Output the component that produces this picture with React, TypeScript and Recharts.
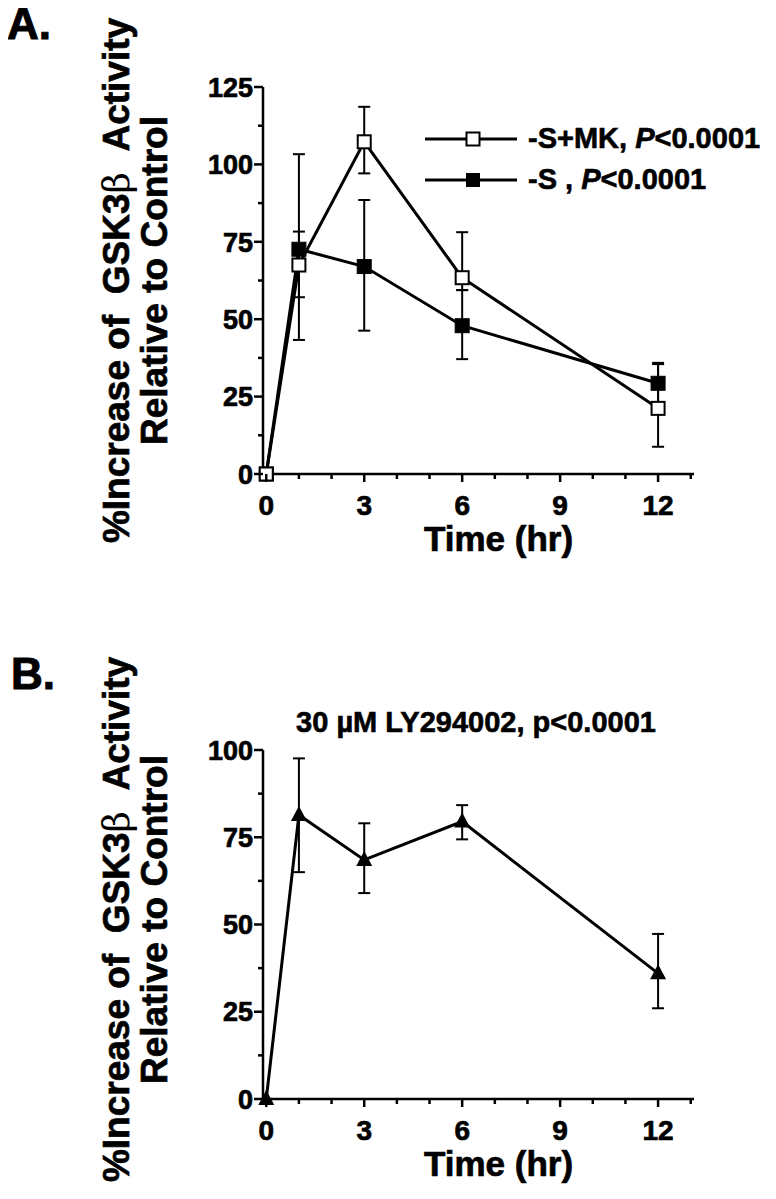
import React from 'react';
import { LineChart, Line, XAxis, YAxis, ErrorBar, Legend } from 'recharts';

// time points (hr)
const times = [0, 1, 3, 6, 12];

// panel A: -S+MK (open squares)
const mkMean = [0, 67.5, 107.3, 63.4, 21.2];
const mkLow = [0, 43.3, 97.1, 59.4, 8.8];
const mkHigh = [0, 103.3, 118.6, 78.1, 35.9];

// panel A: -S (filled squares)
const sMean = [0, 72.6, 67, 47.9, 29.3];
const sLow = [0, 57.1, 46.3, 37.1, 23];
const sHigh = [0, 78.3, 88.5, 59.4, 35.5];

// panel B: 30 uM LY294002 (triangles)
const lyMean = [0, 81.4, 68.5, 79.5, 36];
const lyLow = [0, 65, 59, 74.4, 26];
const lyHigh = [0, 97.6, 79, 84.2, 47.3];

const xTicks = [0, 1, 2, 3, 4, 5, 6, 7, 8, 9, 10, 11, 12, 13];
const yTicksA = [0, 12.5, 25, 37.5, 50, 62.5, 75, 87.5, 100, 112.5, 125];
const yTicksB = [0, 12.5, 25, 37.5, 50, 62.5, 75, 87.5, 100];

const legendItems = [
  { key: 'mk', label: '-S+MK, ', filled: false },
  { key: 's', label: '-S , ', filled: true },
];

const FONT = '"Liberation Sans", Arial, Helvetica, sans-serif';
// heavier look, like the scanned figure
const heavy = { stroke: '#000', strokeWidth: 0.7, paintOrder: 'stroke' as const };

const dataA = times.map((t, i) => ({
  t,
  mk: mkMean[i],
  mkErr: [mkMean[i] - mkLow[i], mkHigh[i] - mkMean[i]],
  s: sMean[i],
  sErr: [sMean[i] - sLow[i], sHigh[i] - sMean[i]],
}));

const dataB = times.map((t, i) => ({
  t,
  ly: lyMean[i],
  lyErr: [lyMean[i] - lyLow[i], lyHigh[i] - lyMean[i]],
}));

const XTick = ({ x, y, payload }: any) => {
  const major = payload.value % 3 === 0;
  return (
    <g>
      <line x1={x} x2={x} y1={y} y2={y + (major ? 8 : 5)} stroke="#000" strokeWidth={2.5} />
      {major && (
        <text x={x} y={y + 41} textAnchor="middle" fontFamily={FONT} fontWeight="bold" fontSize={28} fill="#000" {...heavy}>
          {payload.value}
        </text>
      )}
    </g>
  );
};

const YTick = ({ x, y, payload }: any) => {
  const major = payload.value % 25 === 0;
  return (
    <g>
      <line x1={x - (major ? 9 : 5)} x2={x} y1={y} y2={y} stroke="#000" strokeWidth={2.5} />
      {major && (
        <text x={x - 10} y={y} dy="0.36em" textAnchor="end" fontFamily={FONT} fontWeight="bold" fontSize={27} fill="#000" {...heavy}>
          {payload.value}
        </text>
      )}
    </g>
  );
};

const YTitle = ({ viewBox, shift = 0 }: any) => {
  const cy = viewBox.y + viewBox.height / 2 + shift;
  const common = {
    textAnchor: 'middle' as const,
    fontFamily: FONT,
    fontWeight: 'bold' as const,
    fontSize: 37,
    fill: '#000',
    ...heavy,
    style: { whiteSpace: 'pre' as const },
  };
  const x1 = viewBox.x - 74;
  const x2 = viewBox.x - 36;
  return (
    <g>
      <text x={x1} y={cy} transform={`rotate(-90 ${x1} ${cy})`} {...common}>
        %Increase of  GSK3<tspan fontWeight="normal" fontFamily="DejaVu Serif" strokeWidth={0}>β</tspan>  Activity
      </text>
      <text x={x2} y={cy} transform={`rotate(-90 ${x2} ${cy})`} {...common}>
        Relative to Control
      </text>
    </g>
  );
};

const XTitle = ({ viewBox }: any) => (
  <text
    x={viewBox.x + viewBox.width / 2 + 20}
    y={viewBox.y + 77}
    textAnchor="middle"
    fontFamily={FONT}
    fontWeight="bold"
    fontSize={35}
    fill="#000"
    {...heavy}
  >
    Time (hr)
  </text>
);

const OpenSquare = (p: any) => (
  <rect key={p.index} x={p.cx - 6.5} y={p.cy - 6.5} width={13} height={13} fill="#fff" stroke="#000" strokeWidth={2} />
);
const FilledSquare = (p: any) => (
  <rect key={p.index} x={p.cx - 7} y={p.cy - 7} width={14} height={14} fill="#000" stroke="#000" strokeWidth={1} />
);
const Triangle = (p: any) => (
  <polygon
    key={p.index}
    points={`${p.cx},${p.cy - 9} ${p.cx - 8},${p.cy + 6} ${p.cx + 8},${p.cy + 6}`}
    fill="#000"
  />
);

const LegendBox = () => (
  <div style={{ fontFamily: FONT, fontWeight: 'bold', fontSize: 29, color: '#000', WebkitTextStroke: '0.6px #000' }}>
    {legendItems.map((it) => (
      <div key={it.key} style={{ display: 'flex', alignItems: 'center', height: 41, whiteSpace: 'pre' }}>
        <svg width={92} height={20} style={{ marginRight: 11 }}>
          <line x1={0} x2={92} y1={10} y2={10} stroke="#000" strokeWidth={3} />
          {it.filled ? (
            <rect x={41} y={3} width={14} height={14} fill="#000" />
          ) : (
            <rect x={41.5} y={3.5} width={13} height={13} fill="#fff" stroke="#000" strokeWidth={2} />
          )}
        </svg>
        <span>
          {it.label}
          <i>P</i>
          {'<0.0001'}
        </span>
      </div>
    ))}
  </div>
);

const axisStyle = { stroke: '#000', strokeWidth: 2.5 };
const panelLabel = {
  position: 'absolute' as const,
  fontFamily: FONT,
  fontWeight: 'bold' as const,
  fontSize: 44,
  lineHeight: '48px',
  WebkitTextStroke: '1px #000',
};

export default function App() {
  return (
    <div style={{ position: 'relative', width: 776, height: 1199, margin: -8, background: '#fff', overflow: 'hidden' }}>
      <div style={{ ...panelLabel, left: 7, top: 0 }}>A.</div>
      <div style={{ ...panelLabel, left: 11, top: 650 }}>B.</div>
      <div
        style={{
          position: 'absolute',
          left: 0,
          width: 952,
          top: 705,
          textAlign: 'center',
          fontFamily: FONT,
          fontWeight: 'bold',
          fontSize: 29,
          lineHeight: '34px',
          WebkitTextStroke: '0.6px #000',
        }}
      >
        30 µM LY294002, p&lt;0.0001
      </div>

      <div style={{ position: 'absolute', left: 0, top: 0 }}>
        <LineChart width={776} height={600} data={dataA} margin={{ top: 87, right: 82, bottom: 66, left: 203 }}>
          <XAxis
            dataKey="t"
            type="number"
            domain={[-0.1, 13.1]}
            ticks={xTicks}
            interval={0}
            tickSize={0}
            tickMargin={0}
            tickLine={false}
            axisLine={axisStyle}
            tick={<XTick />}
            height={60}
            label={{ content: (p: any) => <XTitle {...p} /> }}
          />
          <YAxis
            type="number"
            domain={[0, 125]}
            ticks={yTicksA}
            interval={0}
            tickSize={0}
            tickMargin={0}
            tickLine={false}
            axisLine={axisStyle}
            tick={<YTick />}
            width={60}
            label={{ content: (p: any) => <YTitle {...p} /> }}
          />
          <Legend
            layout="horizontal"
            verticalAlign="middle"
            align="center"
            content={() => <LegendBox />}
            wrapperStyle={{ position: 'absolute', left: 425, top: 118, width: 360 }}
          />
          <Line
            dataKey="s"
            stroke="#000"
            strokeWidth={3}
            dot={FilledSquare}
            activeDot={false}
            isAnimationActive={false}
          >
            <ErrorBar dataKey="sErr" direction="y" width={6} stroke="#000" strokeWidth={2} isAnimationActive={false} />
          </Line>
          <Line
            dataKey="mk"
            stroke="#000"
            strokeWidth={3}
            dot={OpenSquare}
            activeDot={false}
            isAnimationActive={false}
          >
            <ErrorBar dataKey="mkErr" direction="y" width={6} stroke="#000" strokeWidth={2} isAnimationActive={false} />
          </Line>
        </LineChart>
      </div>

      <div style={{ position: 'absolute', left: 0, top: 600 }}>
        <LineChart width={776} height={599} data={dataB} margin={{ top: 150, right: 82, bottom: 40, left: 203 }}>
          <XAxis
            dataKey="t"
            type="number"
            domain={[-0.1, 13.1]}
            ticks={xTicks}
            interval={0}
            tickSize={0}
            tickMargin={0}
            tickLine={false}
            axisLine={axisStyle}
            tick={<XTick />}
            height={60}
            label={{ content: (p: any) => <XTitle {...p} /> }}
          />
          <YAxis
            type="number"
            domain={[0, 100]}
            ticks={yTicksB}
            interval={0}
            tickSize={0}
            tickMargin={0}
            tickLine={false}
            axisLine={axisStyle}
            tick={<YTick />}
            width={60}
            label={{ content: (p: any) => <YTitle {...p} shift={-5} /> }}
          />
          <Line
            dataKey="ly"
            stroke="#000"
            strokeWidth={3}
            dot={Triangle}
            activeDot={false}
            isAnimationActive={false}
          >
            <ErrorBar dataKey="lyErr" direction="y" width={6} stroke="#000" strokeWidth={2} isAnimationActive={false} />
          </Line>
        </LineChart>
      </div>
    </div>
  );
}
